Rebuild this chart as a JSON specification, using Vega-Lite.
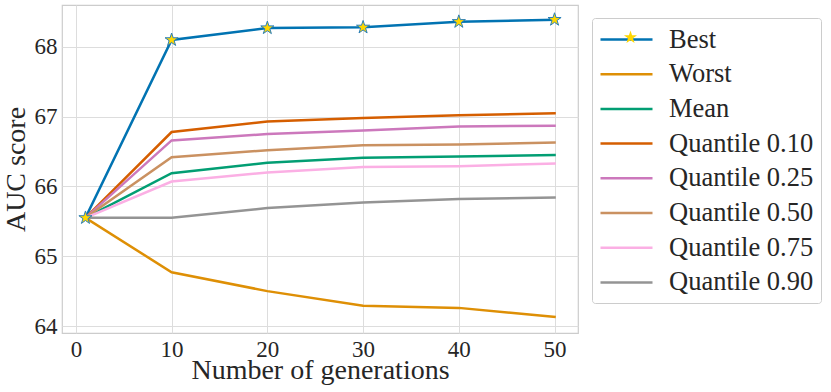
{
  "$schema": "https://vega.github.io/schema/vega-lite/v6.json",
  "width": 516,
  "height": 328,
  "autosize": {"type": "none"},
  "padding": {"left": 62, "top": 5, "right": 253, "bottom": 59},
  "background": "white",
  "config": {
    "font": "Liberation Serif",
    "view": {"stroke": "#cccccc", "strokeWidth": 1.2},
    "axis": {
      "grid": true,
      "gridColor": "#dddddd",
      "gridWidth": 1,
      "domain": false,
      "ticks": false,
      "labelFont": "Liberation Serif",
      "labelFontSize": 23,
      "labelColor": "#262626",
      "titleFont": "Liberation Serif",
      "titleFontSize": 28,
      "titleFontWeight": "normal",
      "titleColor": "#262626"
    }
  },
  "datasets": {
    "curves": [
      {"series": "Best", "gen": 1, "auc": 65.55},
      {"series": "Best", "gen": 10, "auc": 68.10},
      {"series": "Best", "gen": 20, "auc": 68.27},
      {"series": "Best", "gen": 30, "auc": 68.28},
      {"series": "Best", "gen": 40, "auc": 68.36},
      {"series": "Best", "gen": 50, "auc": 68.39},
      {"series": "Worst", "gen": 1, "auc": 65.55},
      {"series": "Worst", "gen": 10, "auc": 64.77},
      {"series": "Worst", "gen": 20, "auc": 64.50},
      {"series": "Worst", "gen": 30, "auc": 64.29},
      {"series": "Worst", "gen": 40, "auc": 64.26},
      {"series": "Worst", "gen": 50, "auc": 64.13},
      {"series": "Mean", "gen": 1, "auc": 65.55},
      {"series": "Mean", "gen": 10, "auc": 66.19},
      {"series": "Mean", "gen": 20, "auc": 66.34},
      {"series": "Mean", "gen": 30, "auc": 66.41},
      {"series": "Mean", "gen": 40, "auc": 66.43},
      {"series": "Mean", "gen": 50, "auc": 66.45},
      {"series": "Quantile 0.10", "gen": 1, "auc": 65.55},
      {"series": "Quantile 0.10", "gen": 10, "auc": 66.78},
      {"series": "Quantile 0.10", "gen": 20, "auc": 66.93},
      {"series": "Quantile 0.10", "gen": 30, "auc": 66.98},
      {"series": "Quantile 0.10", "gen": 40, "auc": 67.02},
      {"series": "Quantile 0.10", "gen": 50, "auc": 67.05},
      {"series": "Quantile 0.25", "gen": 1, "auc": 65.55},
      {"series": "Quantile 0.25", "gen": 10, "auc": 66.66},
      {"series": "Quantile 0.25", "gen": 20, "auc": 66.75},
      {"series": "Quantile 0.25", "gen": 30, "auc": 66.80},
      {"series": "Quantile 0.25", "gen": 40, "auc": 66.86},
      {"series": "Quantile 0.25", "gen": 50, "auc": 66.87},
      {"series": "Quantile 0.50", "gen": 1, "auc": 65.55},
      {"series": "Quantile 0.50", "gen": 10, "auc": 66.42},
      {"series": "Quantile 0.50", "gen": 20, "auc": 66.52},
      {"series": "Quantile 0.50", "gen": 30, "auc": 66.59},
      {"series": "Quantile 0.50", "gen": 40, "auc": 66.60},
      {"series": "Quantile 0.50", "gen": 50, "auc": 66.63},
      {"series": "Quantile 0.75", "gen": 1, "auc": 65.55},
      {"series": "Quantile 0.75", "gen": 10, "auc": 66.07},
      {"series": "Quantile 0.75", "gen": 20, "auc": 66.20},
      {"series": "Quantile 0.75", "gen": 30, "auc": 66.28},
      {"series": "Quantile 0.75", "gen": 40, "auc": 66.29},
      {"series": "Quantile 0.75", "gen": 50, "auc": 66.33},
      {"series": "Quantile 0.90", "gen": 1, "auc": 65.55},
      {"series": "Quantile 0.90", "gen": 10, "auc": 65.55},
      {"series": "Quantile 0.90", "gen": 20, "auc": 65.69},
      {"series": "Quantile 0.90", "gen": 30, "auc": 65.77},
      {"series": "Quantile 0.90", "gen": 40, "auc": 65.82},
      {"series": "Quantile 0.90", "gen": 50, "auc": 65.84}
    ],
    "stars": [
      {"marker": "Best", "gen": 1, "auc": 65.55},
      {"marker": "Best", "gen": 10, "auc": 68.10},
      {"marker": "Best", "gen": 20, "auc": 68.27},
      {"marker": "Best", "gen": 30, "auc": 68.28},
      {"marker": "Best", "gen": 40, "auc": 68.36},
      {"marker": "Best", "gen": 50, "auc": 68.39}
    ]
  },
  "encoding": {
    "x": {
      "field": "gen",
      "type": "quantitative",
      "scale": {"domain": [-1.45, 52.45], "nice": false, "zero": false},
      "axis": {"values": [0, 10, 20, 30, 40, 50], "title": "Number of generations", "labelPadding": 5, "titlePadding": -5}
    },
    "y": {
      "field": "auc",
      "type": "quantitative",
      "scale": {"domain": [63.9, 68.6], "nice": false, "zero": false},
      "axis": {"values": [64, 65, 66, 67, 68], "title": "AUC score", "labelPadding": 5, "titlePadding": 4}
    }
  },
  "layer": [
    {
      "data": {"name": "curves"},
      "mark": {"type": "line", "strokeWidth": 2.5, "strokeCap": "square"},
      "encoding": {
        "color": {
          "field": "series",
          "type": "nominal",
          "scale": {
            "domain": ["Best", "Worst", "Mean", "Quantile 0.10", "Quantile 0.25", "Quantile 0.50", "Quantile 0.75", "Quantile 0.90"],
            "range": ["#0173b2", "#de8f05", "#029e73", "#d55e00", "#cc78bc", "#ca9161", "#fbafe4", "#949494"]
          },
          "legend": {
            "title": null,
            "orient": "none",
            "legendX": 530,
            "legendY": 13,
            "symbolType": "M-1,0L3,0",
            "symbolSize": 676,
            "symbolStrokeWidth": 2.5,
            "labelFont": "Liberation Serif",
            "labelFontSize": 26.5,
            "labelColor": "#262626",
            "labelOffset": 41,
            "rowPadding": 6.7,
            "padding": 7,
            "strokeColor": "#cccccc",
            "fillColor": "white",
            "cornerRadius": 3,
            "labelLimit": 300
          }
        },
        "order": {"field": "gen", "type": "quantitative"}
      }
    },
    {
      "data": {"name": "stars"},
      "mark": {"type": "point", "filled": true, "fill": "#ffd700", "stroke": "#2a7fb8", "strokeWidth": 1, "size": 190, "opacity": 1},
      "encoding": {
        "shape": {
          "field": "marker",
          "type": "nominal",
          "scale": {"domain": ["Best"], "range": ["M0,-1L0.225,-0.309L0.951,-0.309L0.363,0.118L0.588,0.809L0,0.382L-0.588,0.809L-0.363,0.118L-0.951,-0.309L-0.225,-0.309Z"]},
          "legend": {
            "title": null,
            "orient": "none",
            "legendX": 548,
            "legendY": 12,
            "symbolSize": 190,
            "symbolFillColor": "#ffd700",
            "symbolStrokeColor": "#2a7fb8",
            "symbolStrokeWidth": 1,
            "labelExpr": "''",
            "labelFontSize": 25,
            "padding": 8,
            "strokeColor": null,
            "fillColor": null
          }
        }
      }
    }
  ]
}
